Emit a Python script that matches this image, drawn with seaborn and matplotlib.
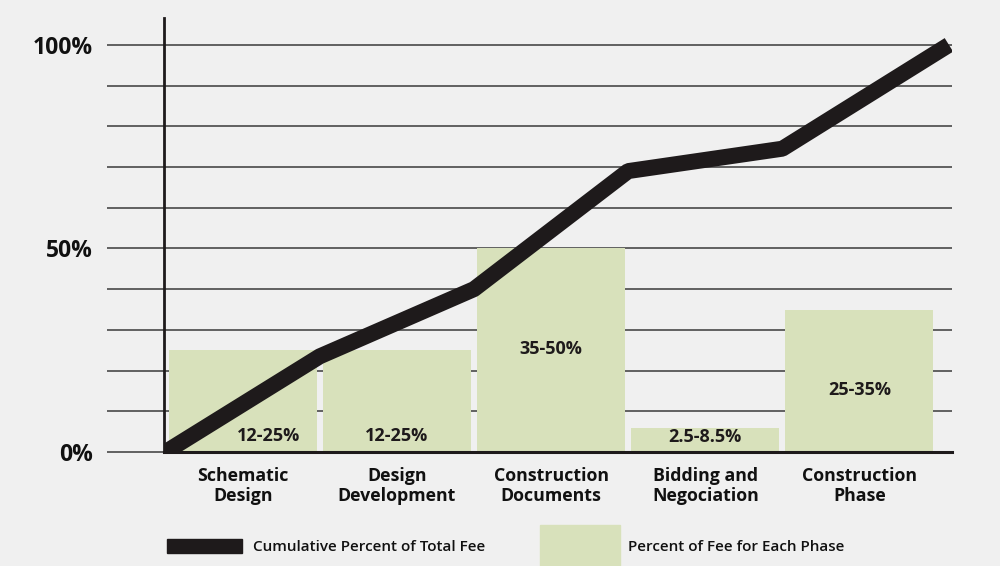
import numpy as np
import pandas as pd
import matplotlib.pyplot as plt
import matplotlib.patches as mpatches
import seaborn as sns

# Data
phases = ['Schematic\nDesign', 'Design\nDevelopment', 'Construction\nDocuments',
          'Bidding and\nNegociation', 'Construction\nPhase']
phase_pct = [25, 25, 50, 6, 35]
phase_range = ['12-25%', '12-25%', '35-50%', '2.5-8.5%', '25-35%']
cum_pct = [0, 23.5, 40, 69, 74.5, 100]

bg = '#f0f0f0'
green = '#d8e1bb'
dark = '#1e1a1b'
grid_c = '#3a3a3a'

sns.set_theme(style='white')
plt.rcParams['font.family'] = ['Open Sans', 'DejaVu Sans']

fig = plt.figure(figsize=(10, 5.66), dpi=100, facecolor=bg)
ax = fig.add_axes([0.164, 0.2014, 0.788, 0.7668])
ax.set_facecolor(bg)

df = pd.DataFrame({'pos': np.arange(len(phases)), 'pct': phase_pct})
sns.barplot(data=df, x='pos', y='pct', native_scale=True, width=0.96,
            color=green, saturation=1, ax=ax, zorder=2,
            edgecolor='none', linewidth=0)

# cumulative line runs along the phase boundaries
x_line = np.arange(len(cum_pct)) - 0.5
x_line[-1] += 0.08
sns.lineplot(x=x_line, y=cum_pct, color=dark, linewidth=11.5, ax=ax, zorder=3,
             solid_joinstyle='bevel', solid_capstyle='butt')

# range labels inside bars
lbl_x = [0.17, 1, 2, 3, 4]
lbl_y = [3.9, 3.9, 25.3, 3.7, 15.2]
for i, txt in enumerate(phase_range):
    ax.text(lbl_x[i], lbl_y[i], txt, ha='center', va='center',
            fontsize=13, fontweight='bold', color=dark, zorder=4)

ax.set_xlim(-0.51, 4.6)
ax.set_ylim(0, 106.6)
ax.set_yticks(np.arange(0, 101, 10))
ax.set_yticklabels(['0%' if v == 0 else '50%' if v == 50 else '100%' if v == 100 else ''
                    for v in range(0, 101, 10)],
                   fontsize=16.5, fontweight='bold', color='#111111')
ax.tick_params(axis='y', length=41, width=1.1, color=grid_c, pad=10, left=True)
ax.set_xticks(range(len(phases)))
ax.set_xticklabels(phases, fontsize=12.8, fontweight='bold', color='#111111',
                   linespacing=1.15)
ax.tick_params(axis='x', length=0, pad=10.5)
ax.grid(axis='y', color=grid_c, linewidth=1.1)
ax.set_axisbelow(True)
ax.set_xlabel('')
ax.set_ylabel('')

for s in ['top', 'right']:
    ax.spines[s].set_visible(False)
ax.spines['left'].set_color(dark)
ax.spines['left'].set_linewidth(2)
ax.spines['bottom'].set_color(dark)
ax.spines['bottom'].set_linewidth(2.2)
ax.spines['left'].set_zorder(5)
ax.spines['bottom'].set_zorder(5)

# legend drawn in figure coordinates
fig.patches.append(mpatches.Rectangle((0.167, 1 - 553 / 566), 0.075, 14 / 566,
                                      transform=fig.transFigure, color=dark))
fig.patches.append(mpatches.Rectangle((0.540, 0), 0.080, 41 / 566,
                                      transform=fig.transFigure, color=green))
fig.text(0.253, 1 - 547 / 566, 'Cumulative Percent of Total Fee', ha='left',
         va='center', fontsize=11, fontweight='semibold', color='#111111')
fig.text(0.628, 1 - 547 / 566, 'Percent of Fee for Each Phase', ha='left',
         va='center', fontsize=11, fontweight='semibold', color='#111111')

fig.savefig('out.png', dpi=100, facecolor=bg)
